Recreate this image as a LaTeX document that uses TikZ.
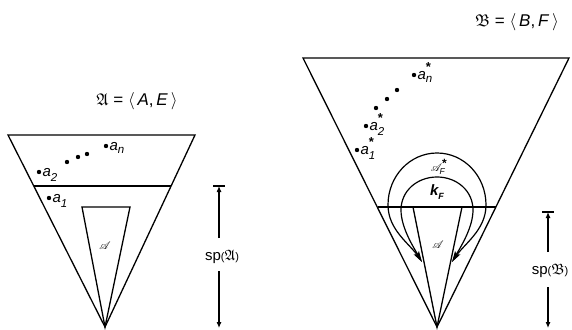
\documentclass[tikz,border=0pt]{standalone}
\usepackage{amssymb}
\usepackage{mathrsfs}
\usepackage{fontspec}
\setmainfont{Liberation Sans}
\usetikzlibrary{arrows.meta}
\newcommand{\lab}[3]{{\itshape #1}$_{\hbox{\fontsize{11.5}{12}\selectfont\itshape #2}}^{\hbox{\raisebox{0.25ex}{\fontsize{13}{13}\selectfont\bfseries #3}}}$}
\begin{document}
\begin{tikzpicture}[x=1pt,y=-1pt,line width=1.3pt,line join=miter,
  lbl/.style={font=\fontsize{15}{16}\selectfont,inner sep=0pt},
  ttl/.style={font=\fontsize{17}{19}\selectfont,inner sep=0pt},
  dotpt/.style={circle,fill,inner sep=0pt,minimum size=4.4pt},
  meas/.style={line width=1.1pt},
  mtip/.style={-{Latex[length=6pt,width=5pt]}},
  curv/.style={line width=1.2pt,{Stealth[length=11pt,width=5.5pt]}-{Stealth[length=11pt,width=5.5pt]}}]
\useasboundingbox (0,0) rectangle (572,329);
% ---------- left structure
\coordinate (LTL) at (8,135); \coordinate (LTR) at (195,135); \coordinate (LAP) at (105,327);
\draw (LTL) -- (LTR) -- (LAP) -- cycle;
\coordinate (LML) at (34,186); \coordinate (LMR) at (171,186);
\draw (LML) -- (LMR);
\coordinate (LIL) at (82,207); \coordinate (LIR) at (130,207);
\draw (LIL) -- (LIR) -- (LAP) -- cycle;
\node[ttl] (ltitle) at (137,101) {$\mathfrak{A}$\;=\;$\langle$\,\textit{A},\,\textit{E}\,$\rangle$};
\node[dotpt] (lan) at (106,146) {};
\node[dotpt] (ld3) at (87,154) {};
\node[dotpt] (ld2) at (78,157) {};
\node[dotpt] (ld1) at (67,162) {};
\node[dotpt] (la2) at (39,172) {};
\node[dotpt] (la1) at (49,198) {};
\node[lbl,anchor=base west] (lanl) at ([xshift=3pt,yshift=-4pt]lan) {\lab{a}{n}{}};
\node[lbl,anchor=base west] (la2l) at ([xshift=3pt,yshift=-4pt]la2) {\lab{a}{2}{}};
\node[lbl,anchor=base west] (la1l) at ([xshift=3pt,yshift=-4pt]la1) {\lab{a}{1}{}};
\node[font=\fontsize{11}{12}\selectfont] (lA) at (105,246) {$\mathscr{A}$};
% left measure
\node[lbl] (lsp) at (222,257) {sp{\fontsize{11}{12}\selectfont(}$\mathfrak{A}${\fontsize{11}{12}\selectfont)}};
\coordinate (lmt) at (219,186); \coordinate (lmb) at (219,328);
\draw[meas,mtip] (219,238) -- (lmt);
\draw[meas] ([xshift=-6pt]lmt) -- ([xshift=6pt]lmt);
\draw[meas,mtip] (219,271) -- (lmb);
% ---------- right structure
\coordinate (RTL) at (303,58); \coordinate (RTR) at (569,58); \coordinate (RAP) at (437,327);
\draw (RTL) -- (RTR) -- (RAP) -- cycle;
\coordinate (RML) at (378,207); \coordinate (RMR) at (496,207);
\draw (RML) -- (RMR);
\coordinate (RIL) at (413,207); \coordinate (RIR) at (462,207);
\draw (RIL) -- (RIR) -- (RAP) -- cycle;
\node[ttl] (rtitle) at (517,22) {$\mathfrak{B}$\;=\;$\langle$\,\textit{B},\,\textit{F}\,$\rangle$};
\node[dotpt] (ran) at (414,75) {};
\node[dotpt] (rd3) at (397,90) {};
\node[dotpt] (rd2) at (387,99) {};
\node[dotpt] (rd1) at (376,108) {};
\node[dotpt] (ra2) at (366,126) {};
\node[dotpt] (ra1) at (357,150) {};
\node[lbl,anchor=base west] (ranl) at ([xshift=3pt,yshift=-4pt]ran) {\lab{a}{n}{*}};
\node[lbl,anchor=base west] (ra2l) at ([xshift=3pt,yshift=-4pt]ra2) {\lab{a}{2}{*}};
\node[lbl,anchor=base west] (ra1l) at ([xshift=3pt,yshift=-4pt]ra1) {\lab{a}{1}{*}};
\node[font=\fontsize{11}{12}\selectfont] (rA) at (438,245) {$\mathscr{A}$};
% teardrop curves
\coordinate (tipL) at (422,262); \coordinate (tipR) at (452,262);
\draw[curv] (tipL) .. controls (410,244) and (388,230) .. (388,205)
  .. controls (388,176) and (410,153) .. (437,153)
  .. controls (464,153) and (486,176) .. (486,205)
  .. controls (486,230) and (464,244) .. (tipR);
\draw[curv] (tipL) .. controls (414,248) and (401,228) .. (401,210)
  .. controls (401,191) and (417,177) .. (437,177)
  .. controls (457,177) and (473,191) .. (473,210)
  .. controls (473,228) and (460,248) .. (tipR);
\node[font=\fontsize{11}{12}\selectfont,inner sep=0pt] (AF) at (439,167) {$\mathscr{A}_{\hbox{\fontsize{8.5}{9}\selectfont\itshape F}}^{\hbox{\fontsize{12}{12}\selectfont\bfseries *}}$};
\node[inner sep=0pt] (kF) at (437,192) {\fontsize{15}{16}\selectfont\bfseries\itshape k\raisebox{-0.45ex}{\fontsize{9}{10}\selectfont F}};
% right measure
\node[lbl] (rsp) at (550,271) {sp{\fontsize{11}{12}\selectfont(}$\mathfrak{B}${\fontsize{11}{12}\selectfont)}};
\coordinate (rmt) at (548,212); \coordinate (rmb) at (548,328);
\draw[meas,mtip] (548,252) -- (rmt);
\draw[meas] ([xshift=-6pt]rmt) -- ([xshift=6pt]rmt);
\draw[meas,mtip] (548,287) -- (rmb);
\end{tikzpicture}
\end{document}
